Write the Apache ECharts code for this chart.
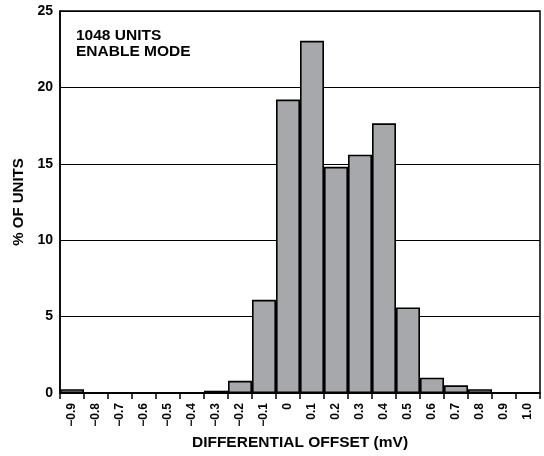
<!DOCTYPE html>
<html>
<head>
<meta charset="utf-8">
<script src="https://cdn.jsdelivr.net/npm/echarts@6/dist/echarts.min.js"></script>
<style>html,body{margin:0;padding:0;background:#fff;}#c{width:544px;height:456px;}</style>
</head>
<body>
<div id="c"></div>
<script>
var categories = ['\u22120.9','\u22120.8','\u22120.7','\u22120.6','\u22120.5','\u22120.4','\u22120.3','\u22120.2','\u22120.1','0','0.1','0.2','0.3','0.4','0.5','0.6','0.7','0.8','0.9','1.0'];
var percentUnits = [0.25, 0, 0, 0, 0, 0, 0.15, 0.8, 6.1, 19.2, 23.05, 14.8, 15.6, 17.65, 5.6, 1.0, 0.5, 0.25, 0, 0];
var yTicks = [0, 5, 10, 15, 20, 25];
var annotationLines = ['1048 UNITS', 'ENABLE MODE'];

var FONT = '"Liberation Sans", Arial, Helvetica, sans-serif';
var chart = echarts.init(document.getElementById('c'), null, {renderer: 'canvas'});
chart.setOption({
  animation: false,
  backgroundColor: '#fff',
  grid: {left: 60, right: 4, top: 11, bottom: 62, show: true, borderColor: '#000', borderWidth: 1.5, containLabel: false},
  xAxis: {
    type: 'category',
    data: categories,
    name: 'DIFFERENTIAL OFFSET (mV)',
    nameLocation: 'middle',
    nameGap: 42,
    nameTextStyle: {fontFamily: FONT, fontWeight: 'bold', fontSize: 15.5, color: '#000'},
    axisLine: {lineStyle: {color: '#000', width: 1.5}},
    axisTick: {show: true, length: 6, lineStyle: {color: '#000', width: 1.5}},
    axisLabel: {rotate: 90, margin: 10, interval: 0, fontFamily: FONT, fontWeight: 'bold', fontSize: 12, color: '#000'},
    splitLine: {show: false}
  },
  yAxis: {
    type: 'value',
    min: yTicks[0],
    max: yTicks[yTicks.length - 1],
    interval: 5,
    name: '% OF UNITS',
    nameLocation: 'middle',
    nameGap: 31,
    nameTextStyle: {fontFamily: FONT, fontWeight: 'bold', fontSize: 15, color: '#000'},
    axisLine: {show: true, lineStyle: {color: '#000', width: 1.5}},
    axisTick: {show: false},
    axisLabel: {margin: 7, fontFamily: FONT, fontWeight: 'bold', fontSize: 14, color: '#000'},
    splitLine: {show: true, lineStyle: {color: '#000', width: 1.2}}
  },
  series: [{
    type: 'bar',
    data: percentUnits,
    barCategoryGap: '0%',
    itemStyle: {color: '#a7a8ac', borderColor: '#000', borderWidth: 1.6},
    silent: true
  }],
  graphic: [{
    type: 'text',
    left: 76,
    top: 28,
    style: {text: annotationLines.join('\n'), fontFamily: FONT, fontWeight: 'bold', fontSize: 15.5, lineHeight: 16, fill: '#000'}
  }]
});
</script>
</body>
</html>
